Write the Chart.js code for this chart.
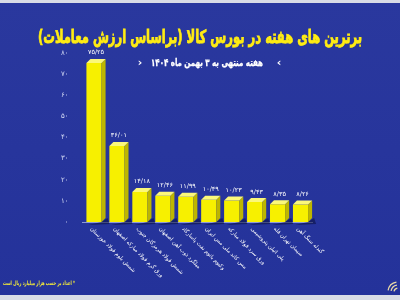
<!DOCTYPE html>
<html>
<head>
<meta charset="utf-8">
<script src="https://cdn.jsdelivr.net/npm/chart.js@4.4.1/dist/chart.umd.min.js"></script>
<style>
html,body{margin:0;padding:0;background:#263497;}
#wrap{width:400px;height:300px;position:relative;}
</style>
</head>
<body>
<div id="wrap"><canvas id="c" width="400" height="300"></canvas></div>
<script>
// ---- data ----
const categories = [
  "شمش بلوم فولاد خوزستان",
  "ورق گرم فولاد مبارکه اصفهان",
  "شمش فولاد هرمزگان جنوب",
  "میلگرد ذوب آهن اصفهان",
  "وکیوم باتوم نفت پاسارگاد",
  "مس کاتد ملی مس ایران",
  "ورق سرد فولاد مبارکه",
  "پلی اتیلن پتروشیمی",
  "سیمان تهران فله",
  "گندله سنگ آهن"
];
const values = [75.25, 36.01, 14.18, 12.46, 11.99, 10.49, 10.23, 9.43, 8.35, 8.26];
const yTicks = [0, 10, 20, 30, 40, 50, 60, 70, 80];
const titleText = "برترین های هفته در بورس کالا (براساس ارزش معاملات)";
const subtitleText = "هفته منتهی به ۳ بهمن ماه ۱۴۰۴";
const noteText = "* اعداد بر حسب هزار میلیارد ریال است";

const FA = "۰۱۲۳۴۵۶۷۸۹";
function fa(s){ return String(s).replace(/\d/g, d => FA[+d]).replace(/\./g, "/"); }
const FONT = "'DejaVu Sans', sans-serif";

function fitText(ctx, text, cx, cy, w, stroke){
  const m = ctx.measureText(text).width;
  const s = w / m;
  ctx.save();
  ctx.translate(cx, cy);
  ctx.scale(s, 1);
  ctx.textAlign = 'center';
  if (stroke) { ctx.lineWidth = stroke; ctx.strokeStyle = ctx.fillStyle; ctx.strokeText(text, 0, 0); }
  ctx.fillText(text, 0, 0);
  ctx.restore();
}

const bgPlugin = {
  id: 'bg',
  beforeDraw(chart){
    const ctx = chart.ctx, W = chart.width, H = chart.height;
    ctx.save();
    const g = ctx.createLinearGradient(0,0,0,H);
    g.addColorStop(0,'#2a389e');
    g.addColorStop(1,'#24329a');
    ctx.fillStyle = g;
    ctx.fillRect(0,0,W,H);
    ctx.fillStyle = '#d9dce6';
    ctx.fillRect(0,0,W,3);
    ctx.fillRect(0,H-5,W,5);
    // title
    ctx.direction = 'rtl';
    ctx.textBaseline = 'middle';
    ctx.fillStyle = '#ffec12';
    ctx.font = "bold 18px " + FONT;
    fitText(ctx, titleText, 200, 38, 324, 0.8);
    ctx.fillStyle = '#ffffff';
    ctx.font = "bold 10px " + FONT;
    fitText(ctx, subtitleText, 207, 63, 112, 0.3);
    ctx.font = "bold 11px " + FONT;
    ctx.textAlign = 'center';
    ctx.fillText('‹', 140, 63);
    ctx.fillText('›', 279, 63);
    // footnote
    ctx.fillStyle = '#f2e93a';
    ctx.font = "bold 6px " + FONT;
    fitText(ctx, noteText, 39, 283, 72);
    // logo
    ctx.strokeStyle = '#e8d8a8';
    ctx.lineWidth = 1.3;
    for (let r = 4; r <= 12; r += 3) {
      ctx.beginPath();
      ctx.arc(398, 292, r, Math.PI*1.05, Math.PI*1.45);
      ctx.stroke();
    }
    ctx.restore();
  }
};

const bar3d = {
  id: 'bar3d',
  afterDatasetsDraw(chart){
    const ctx = chart.ctx;
    const meta = chart.getDatasetMeta(0);
    const d = 4;
    ctx.save();
    meta.data.forEach((el, i) => {
      const {x, y, base, width} = el.getProps(['x','y','base','width'], true);
      const l = x - width/2, r = x + width/2;
      // shadow
      ctx.fillStyle = 'rgba(10,15,60,0.55)';
      ctx.beginPath();
      ctx.moveTo(r, base); ctx.lineTo(r + d + 2, base - d); ctx.lineTo(r + d + 4, base + 2); ctx.lineTo(l + 2, base + 3); ctx.closePath();
      ctx.fill();
      // side
      ctx.fillStyle = '#bdb600';
      ctx.beginPath();
      ctx.moveTo(r, y); ctx.lineTo(r + d, y - d); ctx.lineTo(r + d, base - d); ctx.lineTo(r, base); ctx.closePath();
      ctx.fill();
      // top
      ctx.fillStyle = '#fbf87a';
      ctx.beginPath();
      ctx.moveTo(l, y); ctx.lineTo(l + d, y - d); ctx.lineTo(r + d, y - d); ctx.lineTo(r, y); ctx.closePath();
      ctx.fill();
      // value label
      ctx.fillStyle = '#ffffff';
      ctx.font = "6.5px " + FONT;
      ctx.textAlign = 'center';
      ctx.textBaseline = 'bottom';
      ctx.fillText(fa(values[i].toFixed(2)), x + 2, y - d - 3);
      // category label
      ctx.save();
      ctx.translate(x - 3, base + 6);
      ctx.rotate(Math.PI / 4);
      ctx.font = "5.5px " + FONT;
      ctx.fillStyle = '#ffffff';
      ctx.direction = 'rtl';
      ctx.textAlign = 'left';
      ctx.textBaseline = 'middle';
      ctx.fillText(categories[i], 0, 0);
      ctx.restore();
    });
    ctx.restore();
  }
};

new Chart(document.getElementById('c'), {
  type: 'bar',
  data: {
    labels: categories,
    datasets: [{
      data: values,
      backgroundColor: '#f7f000',
      borderWidth: 0,
      barPercentage: 0.66,
      categoryPercentage: 1
    }]
  },
  options: {
    responsive: false,
    animation: false,
    devicePixelRatio: 1,
    layout: { padding: { left: 55, right: 88, top: 53, bottom: 70 } },
    plugins: { legend: { display: false }, tooltip: { enabled: false }, title: { display: false } },
    scales: {
      x: {
        grid: { display: false },
        border: { display: true, color: '#8d98d8', width: 1 },
        ticks: { display: false }
      },
      y: {
        min: 0, max: 80,
        afterBuildTicks(scale){ scale.ticks = yTicks.map(v => ({ value: v })); },
        grid: { display: false },
        border: { display: false },
        ticks: {
          color: '#d4daf5',
          font: { size: 7, family: FONT },
          padding: 6,
          callback: v => fa(v)
        }
      }
    }
  },
  plugins: [bgPlugin, bar3d]
});
</script>
</body>
</html>
